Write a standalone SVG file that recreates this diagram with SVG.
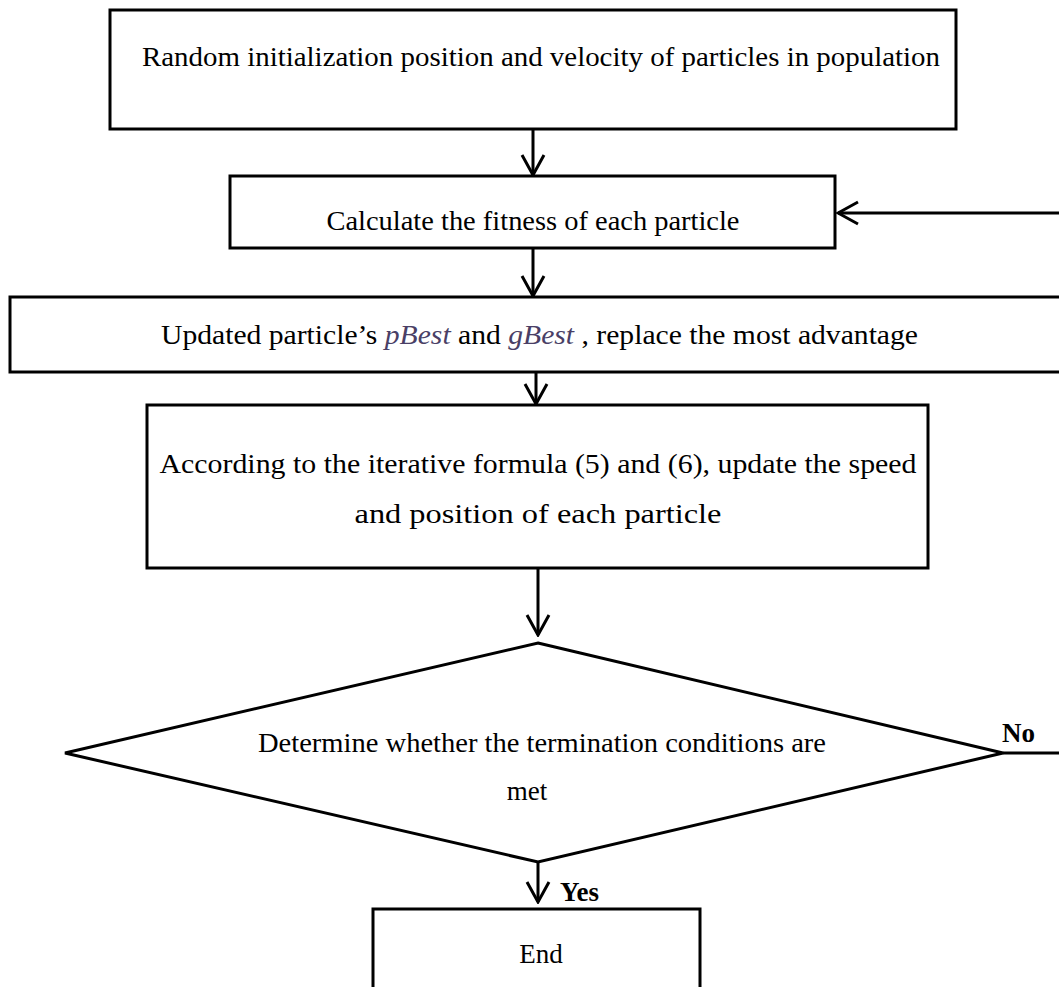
<svg xmlns="http://www.w3.org/2000/svg" width="1059" height="987" viewBox="0 0 1059 987">
<style>
.box{fill:#fff;stroke:#000;stroke-width:3}
.t{font-family:"Liberation Serif","Times New Roman",serif;font-size:27px;fill:#000}
.b{font-weight:bold}
.i{font-style:italic;fill:#4a3f66}
.c{fill:none;stroke:#000;stroke-width:3}
</style>
<defs>
<marker id="ah" viewBox="-24 -14 26 28" markerWidth="26" markerHeight="28" refX="0" refY="0" orient="auto" markerUnits="userSpaceOnUse">
<path d="M-20,-11 L0,0 L-20,11" fill="none" stroke="#000" stroke-width="3"/>
</marker>
</defs>
<rect width="1059" height="987" fill="#fff"/>
<g id="n1">
<rect class="box" x="110" y="10" width="846" height="119"/>
<text class="t" x="541" y="66" text-anchor="middle" textLength="798" lengthAdjust="spacingAndGlyphs">Random initialization position and velocity of particles in population</text>
</g>
<g id="n2">
<rect class="box" x="230" y="176" width="605" height="72"/>
<text class="t" x="533" y="230" text-anchor="middle" textLength="413" lengthAdjust="spacingAndGlyphs">Calculate the fitness of each particle</text>
</g>
<g id="n3">
<rect class="box" x="10" y="297" width="1060" height="75"/>
<text class="t" x="161" y="344" textLength="757" lengthAdjust="spacingAndGlyphs">Updated particle’s <tspan class="i">pBest</tspan>  and  <tspan class="i">gBest</tspan> , replace the most advantage</text>
</g>
<g id="n4">
<rect class="box" x="147" y="405" width="781" height="163"/>
<text class="t" x="538" y="473" text-anchor="middle" textLength="757" lengthAdjust="spacingAndGlyphs">According to the iterative formula (5) and (6), update the speed</text>
<text class="t" x="538" y="523" text-anchor="middle" textLength="367" lengthAdjust="spacingAndGlyphs">and position of each particle</text>
</g>
<g id="n5">
<polygon class="box" points="538,643 1003,753 538,862 65,753"/>
<text class="t" x="542" y="752" text-anchor="middle" textLength="568" lengthAdjust="spacingAndGlyphs">Determine whether the termination conditions are</text>
<text class="t" x="527" y="800" text-anchor="middle">met</text>
</g>
<g id="n6">
<rect class="box" x="373" y="909" width="327" height="100"/>
<text class="t" x="541" y="963" text-anchor="middle">End</text>
</g>
<g id="connectors">
<line class="c" x1="533" y1="129" x2="533" y2="175" marker-end="url(#ah)"/>
<line class="c" x1="533" y1="248" x2="533" y2="296" marker-end="url(#ah)"/>
<line class="c" x1="536" y1="372" x2="536" y2="404" marker-end="url(#ah)"/>
<line class="c" x1="538" y1="568" x2="538" y2="635" marker-end="url(#ah)"/>
<line class="c" x1="538" y1="862" x2="538" y2="902" marker-end="url(#ah)"/>
<path class="c" d="M1003,753 L1070,753 L1070,213 L838,213" marker-end="url(#ah)"/>
<text class="t b" x="560" y="901">Yes</text>
<text class="t b" x="1002" y="742">No</text>
</g>
</svg>
